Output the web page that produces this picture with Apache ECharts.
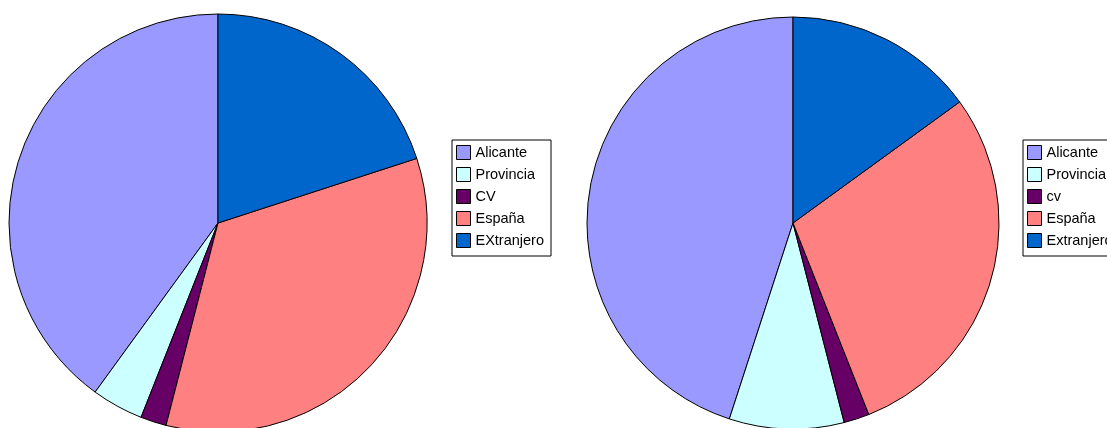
<!DOCTYPE html>
<html>
<head>
<meta charset="utf-8">
<script src="https://cdn.jsdelivr.net/npm/echarts@6/dist/echarts.min.js"></script>
<style>
html,body{margin:0;padding:0;background:#fff;}
#chart{width:1107px;height:428px;}
</style>
</head>
<body>
<div id="chart"></div>
<script>
const categoriesLeft = ['Alicante', 'Provincia', 'CV', 'España', 'EXtranjero'];
const valuesLeft = [40, 4, 2, 34, 20];
const categoriesRight = ['Alicante', 'Provincia', 'cv', 'España', 'Extranjero'];
const valuesRight = [45, 9, 2, 29, 15];
const sliceColors = ['#9999FF', '#CCFFFF', '#660066', '#FF8080', '#0066CC'];

function buildData(cats, vals) {
  return cats.map((c, i) => ({
    name: c,
    value: vals[i],
    itemStyle: { color: sliceColors[i] }
  }));
}

const chart = echarts.init(document.getElementById('chart'), null, { renderer: 'canvas' });

const legendCommon = {
  orient: 'vertical',
  top: 140,
  itemWidth: 14,
  itemHeight: 14,
  itemGap: 7,
  icon: 'rect',
  borderColor: '#000',
  borderWidth: 1,
  borderRadius: 0,
  backgroundColor: '#fff',
  selectedMode: false,
  itemStyle: { borderColor: '#000', borderWidth: 1 },
  textStyle: { fontFamily: 'Liberation Sans, Arial, sans-serif', fontSize: 14.5, color: '#000' }
};

const pieCommon = {
  type: 'pie',
  clockwise: false,
  startAngle: 90,
  label: { show: false },
  labelLine: { show: false },
  emphasis: { disabled: true },
  silent: true,
  avoidLabelOverlap: false,
  itemStyle: { borderColor: '#000', borderWidth: 1 }
};

chart.setOption({
  animation: false,
  backgroundColor: '#fff',
  legend: [
    Object.assign({}, legendCommon, {
      left: 452,
      padding: [5, 7, 8, 4],
      data: categoriesLeft
    }),
    Object.assign({}, legendCommon, {
      left: 1023,
      padding: [5, 7, 8, 4],
      data: categoriesRight
    })
  ],
  series: [
    Object.assign({}, pieCommon, {
      name: 'left',
      center: [218, 223],
      radius: 209,
      data: buildData(categoriesLeft, valuesLeft)
    }),
    Object.assign({}, pieCommon, {
      name: 'right',
      center: [793, 223],
      radius: 206,
      data: buildData(categoriesRight, valuesRight)
    })
  ]
});
</script>
</body>
</html>
